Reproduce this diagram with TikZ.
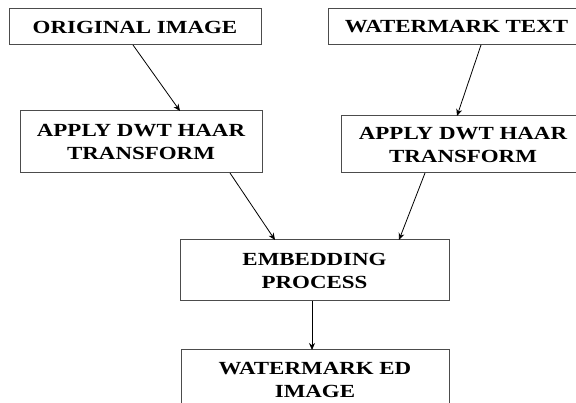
\documentclass[tikz,border=0pt]{standalone}
\usepackage{fontspec}
\newfontfamily\tnr{Liberation Serif}[FakeStretch=1.24]
\usetikzlibrary{arrows.meta}
\tikzset{
  box/.style={draw=black!70, line width=1pt, fill=none, inner sep=0pt, outer sep=0pt,
    align=center, text=black, font=\tnr\bfseries\fontsize{18.5}{23}\selectfont},
  arr/.style={draw=black, line width=0.8pt, -{Stealth[length=7pt,width=6pt]}}
}
\begin{document}
\begin{tikzpicture}[x=1pt,y=-1pt]
\useasboundingbox (0,0) rectangle (576,403);
\clip (0,0) rectangle (576,403);
\fill[white] (0,0) rectangle (576,403);
\node[box, minimum width=252pt, minimum height=36pt] (orig) at (135,27) {ORIGINAL IMAGE};
\node[box, minimum width=257pt, minimum height=36pt] (wmt) at (456.5,27) {WATERMARK TEXT};
\node[box, minimum width=242pt, minimum height=62pt] (dwt1) at (141,142) {APPLY DWT HAAR\\TRANSFORM};
\node[box, minimum width=244pt, minimum height=57pt] (dwt2) at (463,144.5) {APPLY DWT HAAR\\TRANSFORM};
\node[box, minimum width=269pt, minimum height=61pt] (emb) at (314.5,270.5) {EMBEDDING\\PROCESS};
\node[box, minimum width=268pt, minimum height=60pt] (wed) at (315,380) {WATERMARK ED\\IMAGE};
\draw[arr] ([xshift=-2pt]orig.south) -- ([xshift=39pt]dwt1.north);
\draw[arr] ([xshift=24.5pt]wmt.south) -- ([xshift=-6pt]dwt2.north);
\draw[arr] ([xshift=89pt]dwt1.south) -- ([xshift=-39.5pt]emb.north);
\draw[arr] ([xshift=-38pt]dwt2.south) -- ([xshift=84.5pt]emb.north);
\draw[arr] ([xshift=-2.5pt]emb.south) -- ([xshift=-3pt]wed.north);
\end{tikzpicture}
\end{document}
